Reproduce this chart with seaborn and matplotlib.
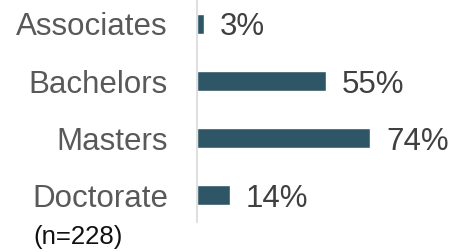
import numpy as np
import pandas as pd
import matplotlib.pyplot as plt
import seaborn as sns

# data
degrees = ["Associates", "Bachelors", "Masters", "Doctorate"]
shares = [3, 55, 74, 14]
sample_note = "(n=228)"

df = pd.DataFrame({"degree": degrees, "share": shares})

sns.set_theme(style="white")
plt.rcParams["font.family"] = ["Liberation Sans", "DejaVu Sans"]

fig = plt.figure(figsize=(4.52, 2.52), dpi=100)
ax = fig.add_axes([0.436, 0.119, 0.518, 0.881])

sns.barplot(data=df, x="share", y="degree", color="#2F5666", width=0.35,
            saturation=1, ax=ax)

ax.set_xlim(0, 100)
ax.set_ylim(3.47, -0.42)
ax.set_xlabel("")
ax.set_ylabel("")
ax.set_xticks([])
ax.tick_params(axis="y", length=0, pad=21, labelsize=22.5, labelcolor="#595959")
for lbl in ax.get_yticklabels():
    lbl.set_va("center_baseline")

for side in ["top", "right", "bottom"]:
    ax.spines[side].set_visible(False)
ax.spines["left"].set_color("#D9D9D9")
ax.spines["left"].set_linewidth(1.2)

for i, v in enumerate(shares):
    ax.annotate(f"{v}%", xy=(v, i), xytext=(11.5, 0), textcoords="offset points",
                ha="left", va="center_baseline", fontsize=22.5, color="#404040")

fig.text(33 / 452, 1 - 244 / 252, sample_note, ha="left", va="baseline",
         fontsize=18.5, color="#111111")

fig.savefig("out.png", dpi=100)
